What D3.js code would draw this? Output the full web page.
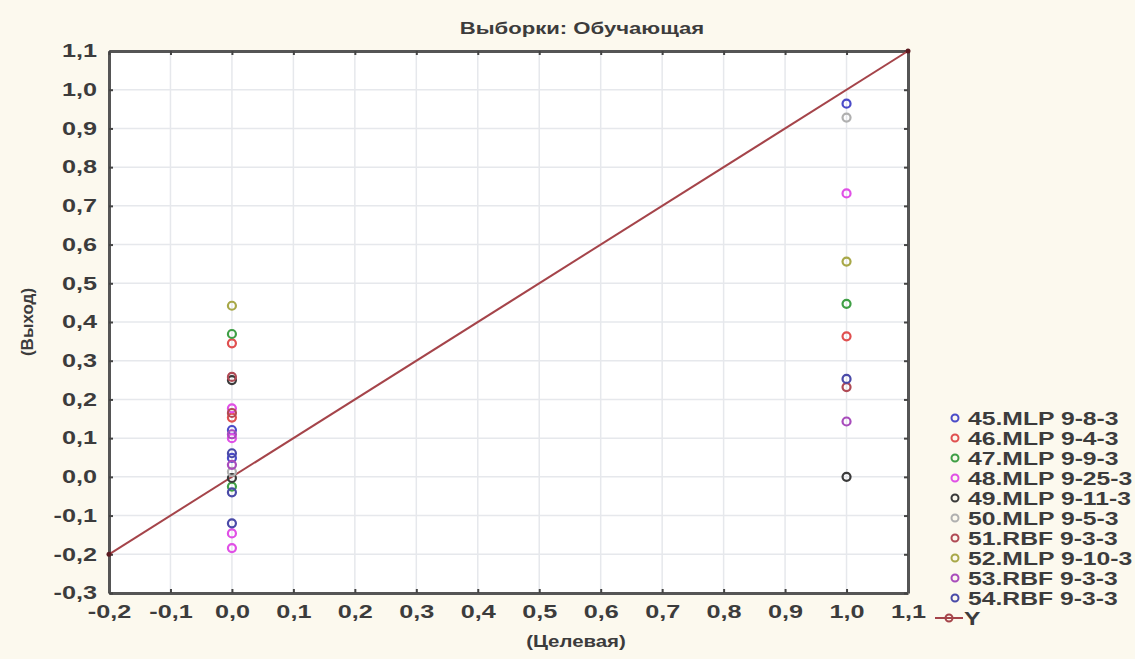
<!DOCTYPE html>
<html>
<head>
<meta charset="utf-8">
<script src="https://cdn.jsdelivr.net/npm/d3@7"></script>
<style>
  body { margin: 0; background: #fcf9ee; }
  svg { display: block; }
  text { font-family: "Liberation Sans", Arial, sans-serif; fill: #3c3c3c; }
</style>
</head>
<body>
<svg id="chart" width="1135" height="659"></svg>
<script>
// chart data
var title = "Выборки: Обучающая";
var xLabel = "(Целевая)";
var yLabel = "(Выход)";
var xTickVals = [-0.2, -0.1, 0.0, 0.1, 0.2, 0.3, 0.4, 0.5, 0.6, 0.7, 0.8, 0.9, 1.0, 1.1];
var xTickLabels = ["-0,2", "-0,1", "0,0", "0,1", "0,2", "0,3", "0,4", "0,5", "0,6", "0,7", "0,8", "0,9", "1,0", "1,1"];
var yTickVals = [-0.3, -0.2, -0.1, 0.0, 0.1, 0.2, 0.3, 0.4, 0.5, 0.6, 0.7, 0.8, 0.9, 1.0, 1.1];
var yTickLabels = ["-0,3", "-0,2", "-0,1", "0,0", "0,1", "0,2", "0,3", "0,4", "0,5", "0,6", "0,7", "0,8", "0,9", "1,0", "1,1"];

var seriesNames = ["45.MLP 9-8-3", "46.MLP 9-4-3", "47.MLP 9-9-3", "48.MLP 9-25-3", "49.MLP 9-11-3",
                   "50.MLP 9-5-3", "51.RBF 9-3-3", "52.MLP 9-10-3", "53.RBF 9-3-3", "54.RBF 9-3-3"];
var seriesColors = ["#4b4bc8", "#e05050", "#3f9f45", "#e050e6", "#3a3a3a",
                    "#b0b0b0", "#b04a55", "#a8a848", "#a84cbc", "#4a4aa8"];
// output values for target 0 and target 1, per series
var outAt0 = [[0.121, 0.049], [0.345, 0.153], [0.369, -0.025], [0.177, 0.100, -0.146, -0.184], [0.250, -0.003],
              [0.013], [0.258, 0.165], [0.442], [0.110, 0.031], [0.061, -0.040, -0.120]];
var outAt1 = [0.964, 0.363, 0.447, 0.732, 0.0, 0.928, 0.232, 0.556, 0.143, 0.253];
var lineY = [[-0.2, -0.2], [1.1, 1.1]];

var svg = d3.select("#chart");
var pLeft = 109, pRight = 908, pTop = 51, pBottom = 593;
var stretch = 1.4;

var x = d3.scaleLinear().domain([-0.2, 1.1]).range([pLeft, pRight]);
var y = d3.scaleLinear().domain([-0.3, 1.1]).range([pBottom, pTop]);

// widen text to match the horizontally stretched look
function widen(sel, f) {
  sel.each(function() {
    var w = this.getComputedTextLength();
    d3.select(this).attr("textLength", w * (f || stretch)).attr("lengthAdjust", "spacingAndGlyphs");
  });
}

svg.append("rect").attr("x", pLeft).attr("y", pTop)
  .attr("width", pRight - pLeft).attr("height", pBottom - pTop).attr("fill", "#fff");

// grid
svg.append("g").selectAll("line").data(xTickVals).enter().append("line")
  .attr("x1", function(d) { return x(d); }).attr("x2", function(d) { return x(d); })
  .attr("y1", pTop).attr("y2", pBottom)
  .attr("stroke", "#e6e8ec").attr("stroke-width", 1.5);
svg.append("g").selectAll("line").data(yTickVals).enter().append("line")
  .attr("y1", function(d) { return y(d); }).attr("y2", function(d) { return y(d); })
  .attr("x1", pLeft).attr("x2", pRight)
  .attr("stroke", "#e6e8ec").attr("stroke-width", 1.5);

// axes, ticks inward on all sides
var fmtX = function(d, i) { return xTickLabels[i]; };
var fmtY = function(d, i) { return yTickLabels[i]; };
var axB = svg.append("g").attr("transform", "translate(0," + pBottom + ")")
  .call(d3.axisBottom(x).tickValues(xTickVals).tickFormat(fmtX).tickSizeInner(-4).tickSizeOuter(0).tickPadding(12));
var axL = svg.append("g").attr("transform", "translate(" + pLeft + ",0)")
  .call(d3.axisLeft(y).tickValues(yTickVals).tickFormat(fmtY).tickSizeInner(-4).tickSizeOuter(0).tickPadding(12));
svg.append("g").attr("transform", "translate(0," + pTop + ")")
  .call(d3.axisTop(x).tickValues(xTickVals).tickFormat("").tickSizeInner(-4).tickSizeOuter(0));
svg.append("g").attr("transform", "translate(" + pRight + ",0)")
  .call(d3.axisRight(y).tickValues(yTickVals).tickFormat("").tickSizeInner(-4).tickSizeOuter(0));
svg.selectAll(".domain").attr("stroke", "#555").attr("stroke-width", 3);
svg.selectAll(".tick line").attr("stroke", "#444").attr("stroke-width", 2);
svg.selectAll(".tick text").style("font-size", "18px").style("font-weight", "bold")
  .style("font-family", "Liberation Sans, Arial, sans-serif").attr("fill", "#555");
axB.selectAll(".tick text").attr("dy", "0.71em");
widen(axB.selectAll(".tick text"));
widen(axL.selectAll(".tick text"));

// diagonal Y line
svg.append("path").datum(lineY)
  .attr("d", d3.line().x(function(d) { return x(d[0]); }).y(function(d) { return y(d[1]); }))
  .attr("stroke", "#a5444a").attr("stroke-width", 2).attr("fill", "none");
svg.append("g").selectAll("circle").data(lineY).enter().append("circle")
  .attr("cx", function(d) { return x(d[0]); }).attr("cy", function(d) { return y(d[1]); })
  .attr("r", 2.5).attr("fill", "#5a1a20");

// points
var pts = [];
seriesNames.forEach(function(n, i) {
  outAt0[i].forEach(function(v) { pts.push({ t: 0, v: v, c: seriesColors[i] }); });
  pts.push({ t: 1, v: outAt1[i], c: seriesColors[i] });
});
svg.append("g").selectAll("circle").data(pts).enter().append("circle")
  .attr("cx", function(d) { return x(d.t); }).attr("cy", function(d) { return y(d.v); })
  .attr("r", 4).attr("fill", "none").attr("stroke", function(d) { return d.c; }).attr("stroke-width", 2.2);

// titles
var t = svg.append("text").attr("x", 582).attr("y", 34).attr("text-anchor", "middle")
  .style("font-size", "17px").style("font-weight", "bold").attr("fill", "#444").text(title);
widen(t, 1.3);
var xl = svg.append("text").attr("x", 576).attr("y", 647).attr("text-anchor", "middle")
  .style("font-size", "17px").style("font-weight", "bold").attr("fill", "#444").text(xLabel);
widen(xl, 1.2);
var yl = svg.append("text").attr("transform", "translate(33,322) rotate(-90)").attr("text-anchor", "middle")
  .style("font-size", "17px").style("font-weight", "bold").attr("fill", "#444").text(yLabel);
widen(yl, 1.0);

// legend
var lg = svg.append("g").attr("transform", "translate(955,418)");
var items = lg.selectAll("g").data(seriesNames).enter().append("g")
  .attr("transform", function(d, i) { return "translate(0," + i * 20 + ")"; });
items.append("circle").attr("r", 3.5).attr("fill", "none")
  .attr("stroke", function(d, i) { return seriesColors[i]; }).attr("stroke-width", 2);
var lt = items.append("text").attr("x", 13).attr("dy", "0.36em")
  .style("font-size", "19px").style("font-weight", "bold").attr("fill", "#444").text(function(d) { return d; });
widen(lt, 1.3);
var ly = lg.append("g").attr("transform", "translate(0," + seriesNames.length * 20 + ")");
ly.append("line").attr("x1", -20).attr("x2", 8).attr("stroke", "#a5444a").attr("stroke-width", 2);
ly.append("circle").attr("cx", -6).attr("r", 3.5).attr("fill", "none").attr("stroke", "#a5444a").attr("stroke-width", 2);
var yt = ly.append("text").attr("x", 9).attr("dy", "0.36em")
  .style("font-size", "19px").style("font-weight", "bold").attr("fill", "#444").text("Y");
widen(yt, 1.3);
</script>
</body>
</html>
